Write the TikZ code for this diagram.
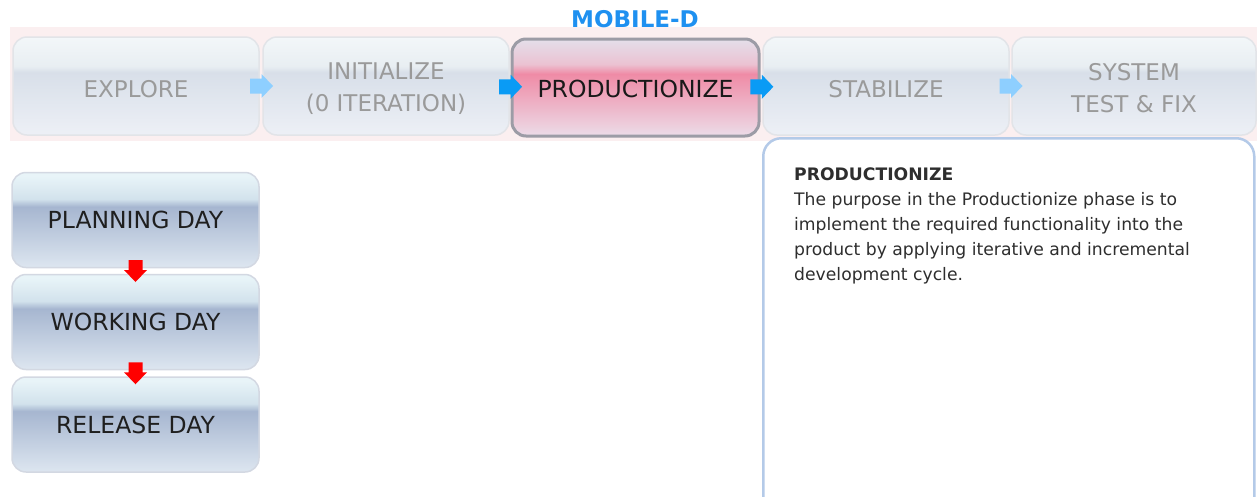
\documentclass[tikz,border=0pt]{standalone}
\usepackage{fontspec}
\setmainfont{DejaVu Sans}
\usetikzlibrary{calc}
\definecolor{bandpink}{HTML}{FBEFF0}
\definecolor{phtop}{HTML}{F3F7F9}
\definecolor{phtop2}{HTML}{E8EEF2}
\definecolor{phmid}{HTML}{D8DFE9}
\definecolor{phbot}{HTML}{EDF0F6}
\definecolor{phborder}{HTML}{E2E4E8}
\definecolor{phtext}{HTML}{9A9A9A}
\definecolor{actop}{HTML}{E4DFEA}
\definecolor{actop2}{HTML}{EBC2D2}
\definecolor{acmid}{HTML}{EF8BA6}
\definecolor{acbot}{HTML}{ECDCE8}
\definecolor{acborder}{HTML}{9C9CA6}
\definecolor{daytop}{HTML}{E8F4F8}
\definecolor{daytop2}{HTML}{D2E2EC}
\definecolor{daymid}{HTML}{A6B6D0}
\definecolor{daybot}{HTML}{DDE6F0}
\definecolor{dayborder}{HTML}{D3D8E2}
\definecolor{arrlight}{HTML}{8ECFFF}
\definecolor{arrdark}{HTML}{0A9BF5}
\definecolor{titleblue}{HTML}{1E90F0}
\definecolor{descborder}{HTML}{B4CAE8}
\definecolor{desctext}{HTML}{2E2E2E}
\pgfdeclareverticalshading{phshade}{100bp}{color(0bp)=(phbot); color(25bp)=(phbot);
  color(57bp)=(phmid); color(60bp)=(phtop2); color(75bp)=(phtop); color(100bp)=(phtop)}
\pgfdeclareverticalshading{acshade}{100bp}{color(0bp)=(acbot); color(25bp)=(acbot);
  color(57bp)=(acmid); color(62bp)=(actop2); color(75bp)=(actop); color(100bp)=(actop)}
\pgfdeclareverticalshading{dayshade}{100bp}{color(0bp)=(daybot); color(25bp)=(daybot);
  color(57bp)=(daymid); color(61bp)=(daytop2); color(73bp)=(daytop); color(100bp)=(daytop)}
\tikzset{
  phase/.style={draw=phborder, line width=1.5pt, rounded corners=14pt,
    shading=phshade, minimum width=246pt, minimum height=98pt, inner sep=0pt},
  active/.style={phase, draw=acborder, line width=3pt, shading=acshade},
  phlabel/.style={align=center, text=phtext, inner sep=0pt,
    font=\fontsize{23}{32}\selectfont},
  daybox/.style={draw=dayborder, line width=1.5pt, rounded corners=14pt,
    shading=dayshade, minimum width=247pt, minimum height=95pt, align=center,
    text=black!88, font=\fontsize{23.5}{26}\selectfont, inner sep=0pt},
  descbox/.style={draw=descborder, line width=2.5pt, rounded corners=18pt,
    fill=white, minimum width=491pt, minimum height=400pt, inner sep=0pt},
  harrow/.pic={\fill[pic actions] (-11,-7.5) -- (0.5,-7.5) -- (0.5,-12) -- (12,0)
     -- (0.5,12) -- (0.5,7.5) -- (-11,7.5) -- cycle;},
  varrow/.pic={\fill[pic actions] (-7,-11) -- (7,-11) -- (7,-1) -- (11.5,-1)
     -- (0,11) -- (-11.5,-1) -- (-7,-1) -- cycle;},
}
\begin{document}
\begin{tikzpicture}[x=1pt,y=-1pt]
\useasboundingbox (0,0) rectangle (1257,496);
\fill[bandpink] (10,27) rectangle (1257,141);
\node[font=\fontsize{23}{26}\selectfont\bfseries, text=titleblue] (title) at (635,19) {MOBILE-D};
\node[phase] (explore) at (136,86) {};
\node[phase] (init) at (386,86) {};
\node[phase] (stab) at (886,86) {};
\node[phase, minimum width=244pt] (sys) at (1134,86) {};
\node[active, minimum width=247pt, minimum height=97pt] (prod) at (635.5,87.5) {};
\node[phlabel] (explore-t) at ($(explore.center)+(0,3)$) {EXPLORE};
\node[phlabel] (init-t) at ($(init.center)+(0,3)$) {INITIALIZE\\(0 ITERATION)};
\node[phlabel] (stab-t) at ($(stab.center)+(0,3)$) {STABILIZE};
\node[phlabel] (sys-t) at ($(sys.center)+(0,2)$) {SYSTEM\\TEST \& FIX};
\node[phlabel, text=black!90, font=\fontsize{23.5}{30}\selectfont] (prod-t) at ($(prod.center)+(0,1.5)$) {PRODUCTIONIZE};
\pic[fill=arrlight] at ($(explore.east)!0.5!(init.west)$) {harrow};
\pic[fill=arrdark] at ($(init.east)!0.5!(prod.west)$) {harrow};
\pic[fill=arrdark] at ($(prod.east)!0.5!(stab.west)$) {harrow};
\pic[fill=arrlight] at ($(stab.east)!0.5!(sys.west)$) {harrow};
\node[daybox] (plan) at (135.5,220) {PLANNING DAY};
\node[daybox] (work) at (135.5,322) {WORKING DAY};
\node[daybox] (rel) at (135.5,424.5) {RELEASE DAY};
\pic[fill=red] at ($(plan.south)!0.5!(work.north)$) {varrow};
\pic[fill=red] at ($(work.south)!0.5!(rel.north)$) {varrow};
\node[descbox, anchor=north west] (desc) at (762,137) {};
\node[anchor=north west, align=left, inner sep=0pt, text=desctext,
  font=\fontsize{17.2}{25}\selectfont] (desctxt) at (794,168)
  {\textbf{PRODUCTIONIZE}\\
   The purpose in the Productionize phase is to\\
   implement the required functionality into the\\
   product by applying iterative and incremental\\
   development cycle.};
\end{tikzpicture}
\end{document}
